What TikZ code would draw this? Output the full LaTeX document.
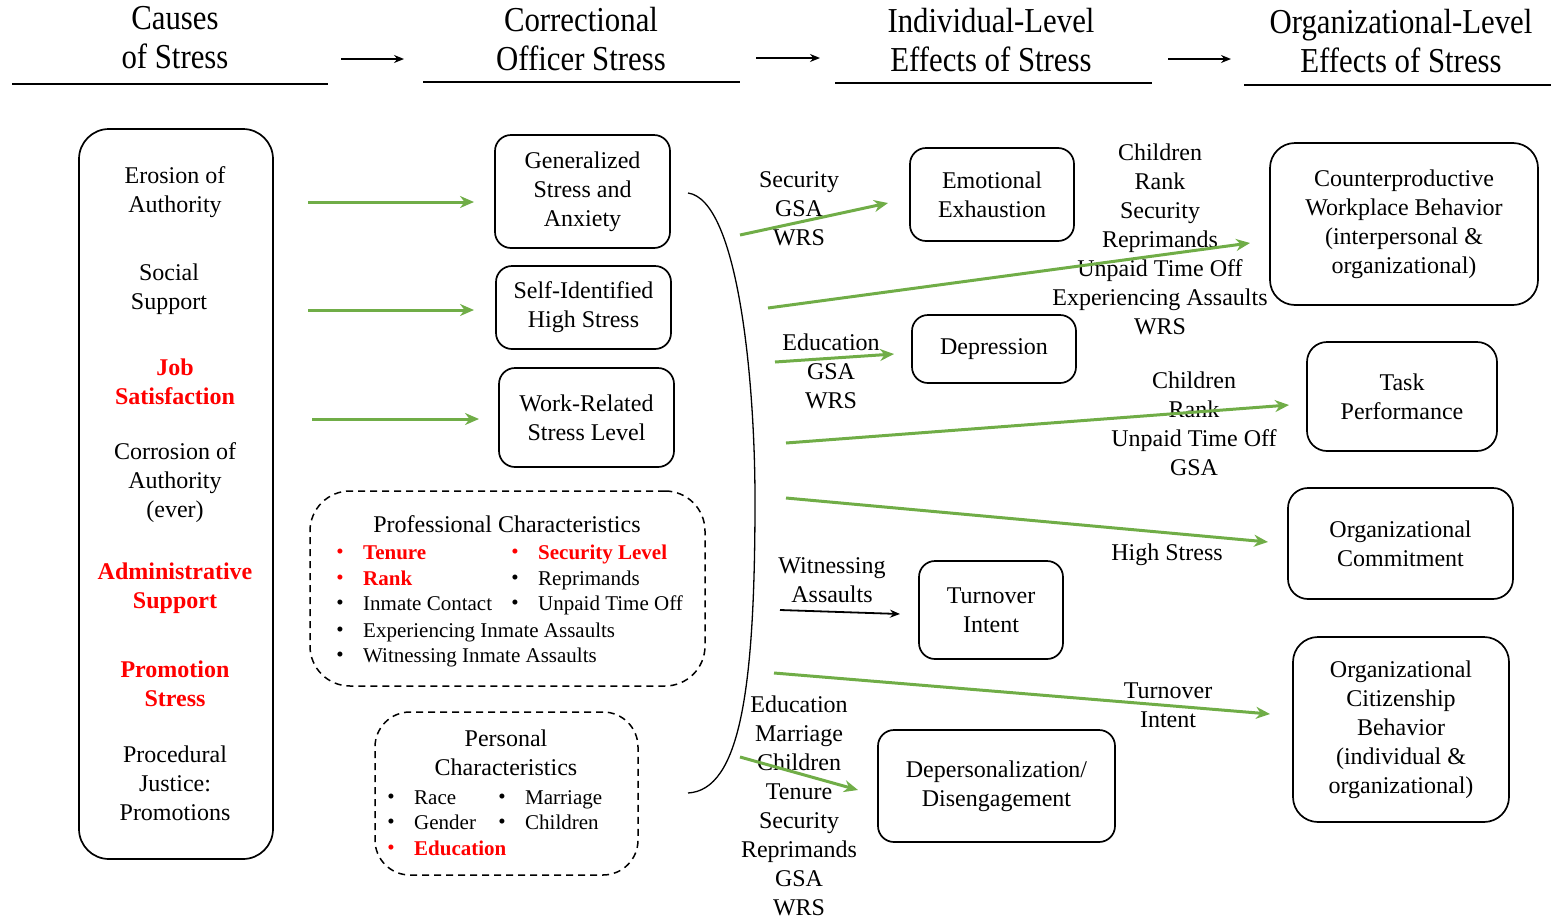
\documentclass[tikz,border=0pt]{standalone}
\usepackage{fontspec}
\setmainfont{Liberation Serif}
\newfontfamily\headfont[FakeStretch=0.88]{Liberation Serif}
\usetikzlibrary{arrows.meta}
\definecolor{arrowgreen}{RGB}{112,173,71}

\begin{document}
\begin{tikzpicture}[x=1pt, y=-1pt, >=Stealth,
  head/.style={align=center, inner sep=0, font=\headfont\fontsize{35}{39}\selectfont},
  txt/.style={align=center, inner sep=0, yshift=-2, font=\fontsize{24}{29}\selectfont},
  hot/.style={txt, text=red, font=\fontsize{24}{29}\selectfont\bfseries},
  box/.style={draw, line width=1.7, rounded corners=16, align=center, font=\fontsize{24}{29}\selectfont},
  dashbox/.style={draw, line width=1.5, dash pattern=on 7pt off 5pt},
  item/.style={anchor=west, inner sep=0, yshift=-2, text height=15, text depth=5, font=\fontsize{21}{25}\selectfont},
  reditem/.style={item, text=red, font=\fontsize{21}{25}\selectfont\bfseries},
  dot/.style={inner sep=0, yshift=-2, font=\fontsize{21}{25}\selectfont},
  garrow/.style={-{Stealth[length=14pt, width=12pt]}, line width=3, arrowgreen},
  harrow/.style={-{Stealth[length=10pt, width=8pt]}, line width=1.4}]
  \useasboundingbox (0,0) rectangle (1551,919);

  % column headers
  \node[head] (hcause) at (175,37.5) {Causes\\of Stress};
  \node[head] (hstress) at (581,39.5) {Correctional\\Officer Stress};
  \node[head] (hind) at (991,40.5) {Individual-Level\\Effects of Stress};
  \node[head] (horg) at (1401,41.5) {Organizational-Level\\Effects of Stress};
  \draw[line width=2.6] (12,84) -- (328,84);
  \draw[line width=2.6] (423,82) -- (740,82);
  \draw[line width=2.6] (835,83) -- (1152,83);
  \draw[line width=2.6] (1244,85) -- (1551,85);
  \coordinate (h1s) at (341,59); \coordinate (h1e) at (404,59);
  \coordinate (h2s) at (756,58); \coordinate (h2e) at (820,58);
  \coordinate (h3s) at (1168,59); \coordinate (h3e) at (1231,59);
  \draw[harrow] (h1s) -- (h1e);
  \draw[harrow] (h2s) -- (h2e);
  \draw[harrow] (h3s) -- (h3e);

  % causes of stress
  \node[draw, line width=1.7, rounded corners=30, minimum width=194, minimum height=730] (causes) at (176,494) {};
  \node[txt] (erosion) at (175,190.5) {Erosion of\\Authority};
  \node[txt] (social) at (169,287.5) {Social\\Support};
  \node[hot] (jobsat) at (175,379.5) {Job\\Satisfaction};
  \node[txt] (corrosion) at (175,481) {Corrosion of\\Authority\\(ever)};
  \node[hot] (admin) at (175,586.5) {Administrative\\Support};
  \node[hot] (promo) at (175,681.5) {Promotion\\Stress};
  \node[txt] (justice) at (175,781) {Procedural\\Justice:\\Promotions};

  % correctional officer stress
  \node[box, minimum width=175, minimum height=113] (gsa) at (582.5,191.5) {Generalized\\Stress and\\Anxiety};
  \node[box, minimum width=175, minimum height=83] (sihs) at (583.5,307.5) {Self-Identified\\High Stress};
  \node[box, minimum width=175, minimum height=99] (wrs) at (586.5,417.5) {Work-Related\\Stress Level};

  \node[dashbox, rounded corners=40, minimum width=395, minimum height=195] (prof) at (507.5,588.5) {};
  \node[txt] (proftitle) at (507,522) {Professional Characteristics};
  \node[dot, red] (pb1) at (340,552) {\textbullet};
  \node[reditem] (tenure) at (363,552) {Tenure};
  \node[dot, red] (pb2) at (515,552) {\textbullet};
  \node[reditem] (seclevel) at (538,552) {Security Level};
  \node[dot, red] (pb3) at (340,578) {\textbullet};
  \node[reditem] (rank) at (363,578) {Rank};
  \node[dot] (pb4) at (515,578) {\textbullet};
  \node[item] (reprim) at (538,578) {Reprimands};
  \node[dot] (pb5) at (340,603) {\textbullet};
  \node[item] (contact) at (363,603) {Inmate Contact};
  \node[dot] (pb6) at (515,603) {\textbullet};
  \node[item] (unpaid) at (538,603) {Unpaid Time Off};
  \node[dot] (pb7) at (340,630) {\textbullet};
  \node[item] (expass) at (363,630) {Experiencing Inmate Assaults};
  \node[dot] (pb8) at (340,655) {\textbullet};
  \node[item] (witass) at (363,655) {Witnessing Inmate Assaults};

  \node[dashbox, rounded corners=35, minimum width=263, minimum height=163] (pers) at (506.5,793.5) {};
  \node[txt] (perstitle) at (506,750.5) {Personal\\Characteristics};
  \node[dot] (qb1) at (391,797) {\textbullet};
  \node[item] (race) at (414,797) {Race};
  \node[dot] (qb2) at (502,797) {\textbullet};
  \node[item] (marriage) at (525,797) {Marriage};
  \node[dot] (qb3) at (391,822) {\textbullet};
  \node[item] (gender) at (414,822) {Gender};
  \node[dot] (qb4) at (502,822) {\textbullet};
  \node[item] (children) at (525,822) {Children};
  \node[dot, red] (qb5) at (391,848) {\textbullet};
  \node[reditem] (educ) at (414,848) {Education};

  \draw[line width=1.3] (688,193) .. controls (738,200) and (755,380) .. (755,500)
    .. controls (755,690) and (740,790) .. (688,793);

  % individual-level effects
  \node[box, minimum width=164, minimum height=93] (emo) at (992,194.5) {Emotional\\Exhaustion};
  \node[box, minimum width=164, minimum height=68] (dep) at (994,349) {Depression};
  \node[box, minimum width=144, minimum height=98] (turn) at (991,610) {Turnover\\Intent};
  \node[box, minimum width=237, minimum height=112] (dis) at (996.5,786) {Depersonalization/\\Disengagement};

  % organizational-level effects
  \node[box, rounded corners=25, minimum width=268, minimum height=162] (cwb) at (1404,224) {Counterproductive\\Workplace Behavior\\(interpersonal \&\\organizational)};
  \node[box, rounded corners=20, minimum width=190, minimum height=109] (task) at (1402,396.5) {Task\\Performance};
  \node[box, rounded corners=20, minimum width=225, minimum height=111] (oc) at (1400.5,543.5) {Organizational\\Commitment};
  \node[box, rounded corners=25, minimum width=216, minimum height=185] (ocb) at (1401,729.5) {Organizational\\Citizenship\\Behavior\\(individual \&\\organizational)};

  % path labels
  \node[txt] (lemo) at (799,207) {Security\\GSA\\WRS};
  \node[txt] (lcwb) at (1160,237.5) {Children\\Rank\\Security\\Reprimands\\Unpaid Time Off\\Experiencing Assaults\\WRS};
  \node[txt] (ldep) at (831,369) {Education\\GSA\\WRS};
  \node[txt] (ltask) at (1194,422) {Children\\Rank\\Unpaid Time Off\\GSA};
  \node[txt] (loc) at (1167,553) {High Stress};
  \node[txt] (lturn) at (832,578.5) {Witnessing\\Assaults};
  \node[txt] (locb) at (1168,703) {Turnover\\Intent};
  \node[txt] (ldis) at (799,803.5) {Education\\Marriage\\Children\\Tenure\\Security\\Reprimands\\GSA\\WRS};

  % arrows
  \coordinate (a1s) at (308,202); \coordinate (a1e) at (474,202);
  \coordinate (a2s) at (308,310); \coordinate (a2e) at (474,310);
  \coordinate (a3s) at (312,419); \coordinate (a3e) at (479,419);
  \coordinate (e1s) at (740,235); \coordinate (e1e) at (888,203);
  \coordinate (e2s) at (768,308); \coordinate (e2e) at (1250,243);
  \coordinate (e3s) at (775,362); \coordinate (e3e) at (894,354);
  \coordinate (e4s) at (786,443); \coordinate (e4e) at (1289,405);
  \coordinate (e5s) at (786,498); \coordinate (e5e) at (1268,542);
  \coordinate (e6s) at (780,610); \coordinate (e6e) at (900,614);
  \coordinate (e7s) at (774,673); \coordinate (e7e) at (1270,714);
  \coordinate (e8s) at (740,757); \coordinate (e8e) at (858,790);
  \draw[garrow] (a1s) -- (a1e);
  \draw[garrow] (a2s) -- (a2e);
  \draw[garrow] (a3s) -- (a3e);
  \draw[garrow] (e1s) -- (e1e);
  \draw[garrow] (e2s) -- (e2e);
  \draw[garrow] (e3s) -- (e3e);
  \draw[garrow] (e4s) -- (e4e);
  \draw[garrow] (e5s) -- (e5e);
  \draw[harrow, line width=1.8] (e6s) -- (e6e);
  \draw[garrow] (e7s) -- (e7e);
  \draw[garrow] (e8s) -- (e8e);
\end{tikzpicture}
\end{document}
